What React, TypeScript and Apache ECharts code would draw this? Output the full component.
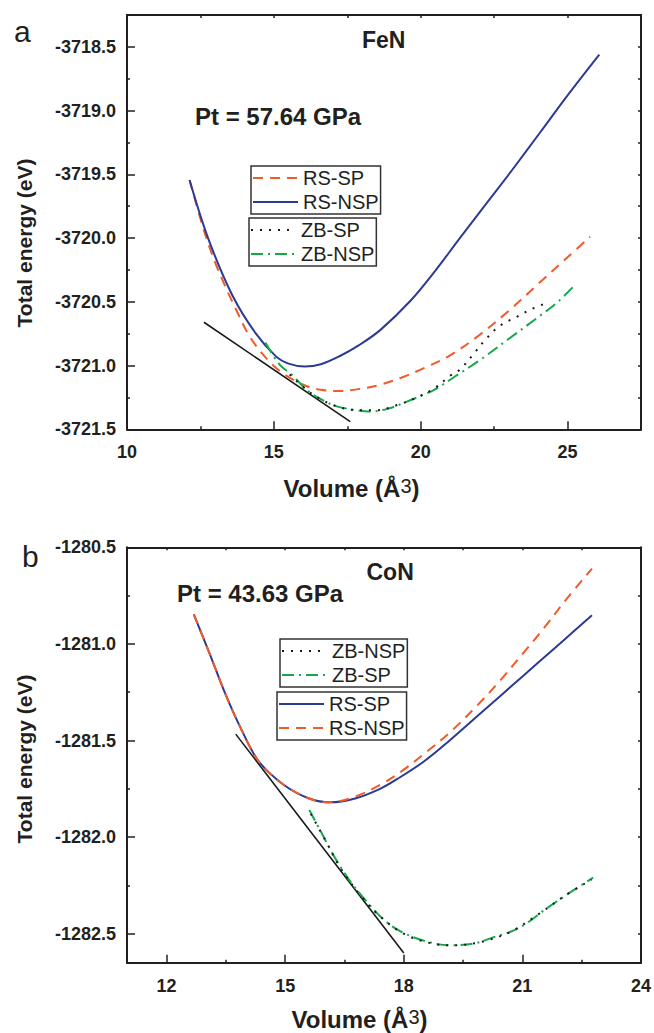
import React, { useEffect, useRef } from 'react';
import * as echarts from 'echarts';

const FONT = '"Liberation Sans", Arial, Helvetica, sans-serif';
const INK = '#231f20';
const BLUE = '#2c3a94';
const ORANGE = '#f15a29';
const GREEN = '#15a84b';
const BLACK = '#1a1a1a';

// ---------- FeN (panel a) ----------
const feRsSpV = [12.13, 12.62, 13.0, 13.33, 13.65, 14.2, 14.85, 15.3, 15.65, 16.1, 16.6, 17.25, 18.0, 18.63, 19.4, 20.11, 21.0, 22.0, 23.0, 24.0, 25.0, 25.77];
const feRsSpE = [-3719.545, -3719.94, -3720.19, -3720.37, -3720.53, -3720.78, -3720.97, -3721.06, -3721.11, -3721.16, -3721.19, -3721.2, -3721.18, -3721.15, -3721.09, -3721.02, -3720.92, -3720.76, -3720.57, -3720.36, -3720.15, -3719.99];

const feRsNspV = [12.13, 12.76, 13.59, 14.39, 15.08, 15.5, 16.05, 16.6, 17.25, 17.9, 18.63, 19.66, 20.5, 21.3, 22.2, 23.1, 24.07, 25.0, 26.08];
const feRsNspE = [-3719.545, -3720.0, -3720.45, -3720.75, -3720.93, -3720.985, -3721.008, -3720.99, -3720.925, -3720.84, -3720.72, -3720.49, -3720.255, -3720.01, -3719.74, -3719.47, -3719.17, -3718.88, -3718.56];

const feZbSpV = [15.54, 16.11, 16.57, 17.14, 17.83, 18.5, 19.2, 19.77, 20.46, 21.0, 21.34, 21.76, 22.19, 22.68, 23.25, 23.75, 24.38];
const feZbSpE = [-3721.07, -3721.19, -3721.26, -3721.32, -3721.35, -3721.35, -3721.31, -3721.26, -3721.18, -3721.08, -3721.03, -3720.92, -3720.8, -3720.69, -3720.62, -3720.56, -3720.5];

const feZbNspV = [14.71, 15.19, 15.65, 16.11, 16.57, 17.14, 17.83, 18.23, 18.86, 19.77, 20.46, 21.14, 22.06, 23.0, 24.0, 24.67, 25.24];
const feZbNspE = [-3720.82, -3720.99, -3721.08, -3721.19, -3721.26, -3721.32, -3721.35, -3721.36, -3721.34, -3721.26, -3721.19, -3721.09, -3720.95, -3720.79, -3720.62, -3720.5, -3720.37];

const feTanV = [12.62, 17.6];
const feTanE = [-3720.66, -3721.44];

// ---------- CoN (panel b) ----------
const coRsSpV = [12.69, 13.07, 13.49, 13.91, 14.34, 14.97, 15.61, 16.14, 16.77, 17.4, 17.83, 18.5, 19.16, 19.95, 20.5, 21.01, 21.75, 22.3, 22.76];
const coRsSpE = [-1280.847, -1281.04, -1281.26, -1281.45, -1281.61, -1281.73, -1281.8, -1281.82, -1281.8, -1281.75, -1281.7, -1281.61, -1281.5, -1281.358, -1281.259, -1281.167, -1281.034, -1280.935, -1280.852];

const coRsNspV = [12.69, 13.07, 13.49, 13.91, 14.34, 14.97, 15.61, 16.14, 16.77, 17.4, 17.94, 18.57, 19.21, 19.85, 20.48, 21.01, 21.54, 22.07, 22.76];
const coRsNspE = [-1280.847, -1281.04, -1281.26, -1281.45, -1281.61, -1281.73, -1281.8, -1281.82, -1281.79, -1281.73, -1281.66, -1281.56, -1281.45, -1281.32, -1281.18, -1281.05, -1280.92, -1280.78, -1280.61];

const coZbSpV = [15.61, 15.9, 16.24, 16.65, 17.09, 17.51, 17.94, 18.57, 19.2, 19.8, 20.24, 20.7, 21.08, 21.54, 22.18, 22.79];
const coZbSpE = [-1281.86, -1281.97, -1282.1, -1282.23, -1282.34, -1282.43, -1282.49, -1282.54, -1282.56, -1282.55, -1282.52, -1282.49, -1282.45, -1282.38, -1282.29, -1282.21];

const coZbNspV = [15.65, 16.0, 16.4, 16.9, 17.4, 18.0, 18.7, 19.3, 20.0, 20.7, 21.4, 22.1, 22.75];
const coZbNspE = [-1281.88, -1282.01, -1282.16, -1282.3, -1282.41, -1282.5, -1282.55, -1282.56, -1282.54, -1282.49, -1282.4, -1282.3, -1282.22];

const coTanV = [13.75, 18.0];
const coTanE = [-1281.467, -1282.6];

// axis ranges
const feX = { min: 10, max: 27.5, interval: 5 };
const feY = { min: -3721.5, max: -3718.25, interval: 0.5 };
const coX = { min: 11, max: 24 };
const coY = { min: -1282.65, max: -1280.5 };

const zip = (xs: number[], ys: number[]) => xs.map((x, i) => [x, ys[i]]);

const isMult = (v: number, step: number) => Math.abs(v / step - Math.round(v / step)) < 1e-6;

const tickLine = { color: INK, width: 1.5 };

function mainX(gridIndex: number, r: any, step: number) {
  return {
    type: 'value', gridIndex, position: 'bottom', ...r,
    axisLine: { onZero: false, lineStyle: { color: INK, width: 2 } },
    axisTick: { inside: true, length: 8, lineStyle: tickLine },
    minorTick: { show: true, splitNumber: 2, length: 3, lineStyle: tickLine },
    splitLine: { show: false },
    axisLabel: {
      margin: 14, fontSize: 18, fontWeight: 'bold', fontFamily: FONT, color: INK,
      formatter: (v: number) => (isMult(v, step) ? String(Math.round(v)) : ''),
    },
  };
}
function mirrorX(gridIndex: number, r: any) {
  return {
    type: 'value', gridIndex, position: 'top', ...r,
    axisLine: { onZero: false, lineStyle: { color: INK, width: 2 } },
    axisTick: { inside: true, length: 3, lineStyle: tickLine },
    minorTick: { show: true, splitNumber: 2, length: 3, lineStyle: tickLine },
    splitLine: { show: false },
    axisLabel: { show: false },
  };
}
function mainY(gridIndex: number, r: any) {
  return {
    type: 'value', gridIndex, position: 'left', ...r,
    axisLine: { onZero: false, lineStyle: { color: INK, width: 2 } },
    axisTick: { inside: true, length: 8, lineStyle: tickLine },
    minorTick: { show: true, splitNumber: 2, length: 3, lineStyle: tickLine },
    splitLine: { show: false },
    axisLabel: {
      margin: 11, fontSize: 18, fontWeight: 'bold', fontFamily: FONT, color: INK,
      formatter: (v: number) => (isMult(v, 0.5) ? v.toFixed(1) : ''),
    },
  };
}
function mirrorY(gridIndex: number, r: any) {
  return {
    type: 'value', gridIndex, position: 'right', ...r,
    axisLine: { onZero: false, lineStyle: { color: INK, width: 2 } },
    axisTick: { inside: true, length: 3, lineStyle: tickLine },
    minorTick: { show: true, splitNumber: 2, length: 3, lineStyle: tickLine },
    splitLine: { show: false },
    axisLabel: { show: false },
  };
}

function line(name: string, data: number[][], axis: number, color: string, type: any, width = 2) {
  return {
    type: 'line', name, data, xAxisIndex: axis, yAxisIndex: axis,
    symbol: 'none', smooth: 0.35, silent: true, z: 3,
    lineStyle: { color, width, type, cap: 'butt' },
    itemStyle: { color },
  };
}

const DASH = [10, 7];
const DOT = [2, 7];
const DASHDOT = [12, 5, 2, 5];

function legend(left: number, top: number, data: string[]) {
  return {
    left, top, orient: 'vertical', data,
    formatter: (n: string) => n.split('|')[1],
    itemWidth: 45, itemHeight: 14, itemGap: 2,
    padding: [1, 2, 1, 1],
    borderColor: '#333', borderWidth: 1.5,
    selectedMode: false,
    itemStyle: { opacity: 0 },
    textStyle: { fontSize: 20, fontFamily: FONT, color: INK, lineHeight: 22 },
  };
}

function txt(x: number, y: number, text: string, size: number, bold: boolean, align = 'left', rotation = 0) {
  return {
    type: 'text', x, y, rotation, silent: true,
    style: { text, fontSize: size, fontWeight: bold ? 'bold' : 'normal', fontFamily: FONT, fill: INK, align, verticalAlign: 'middle' },
  };
}
function volumeName(x: number, y: number) {
  return {
    type: 'text', x, y, silent: true,
    style: {
      text: '{b|Volume (Å}{s|3}{b|)}', align: 'center', verticalAlign: 'middle', fill: INK,
      rich: {
        b: { fontSize: 24, fontWeight: 'bold', fontFamily: FONT, fill: INK, lineHeight: 28, verticalAlign: 'top' },
        s: { fontSize: 20, fontWeight: 'normal', fontFamily: FONT, fill: INK, lineHeight: 22, verticalAlign: 'top' },
      },
    },
  };
}

function buildOption() {
  return {
    animation: false,
    backgroundColor: '#fff',
    grid: [
      { left: 127, top: 15, width: 514, height: 414.3 },
      { left: 127, top: 547.3, width: 514, height: 415.4 },
    ],
    xAxis: [mainX(0, feX, 5), mirrorX(0, feX), mainX(1, coX, 3), mirrorX(1, coX)],
    yAxis: [mainY(0, feY), mirrorY(0, feY), mainY(1, coY), mirrorY(1, coY)],
    legend: [
      legend(251, 166, ['a|RS-SP', 'a|RS-NSP']),
      legend(249, 218, ['a|ZB-SP', 'a|ZB-NSP']),
      legend(280, 639, ['b|ZB-NSP', 'b|ZB-SP']),
      legend(277, 692, ['b|RS-SP', 'b|RS-NSP']),
    ],
    series: [
      line('a|tangent', zip(feTanV, feTanE), 0, BLACK, 'solid', 1.6),
      line('a|RS-SP', zip(feRsSpV, feRsSpE), 0, ORANGE, DASH),
      line('a|RS-NSP', zip(feRsNspV, feRsNspE), 0, BLUE, 'solid'),
      line('a|ZB-NSP', zip(feZbNspV, feZbNspE), 0, GREEN, DASHDOT),
      line('a|ZB-SP', zip(feZbSpV, feZbSpE), 0, BLACK, DOT),
      line('b|tangent', zip(coTanV, coTanE), 2, BLACK, 'solid', 1.6),
      line('b|RS-SP', zip(coRsSpV, coRsSpE), 2, BLUE, 'solid'),
      line('b|RS-NSP', zip(coRsNspV, coRsNspE), 2, ORANGE, DASH),
      line('b|ZB-SP', zip(coZbSpV, coZbSpE), 2, GREEN, DASHDOT),
      line('b|ZB-NSP', zip(coZbNspV, coZbNspE), 2, BLACK, DOT),
    ],
    graphic: [
      txt(14, 31, 'a', 30, false),
      txt(362, 40, 'FeN', 23, true),
      txt(195, 116.5, 'Pt = 57.64 GPa', 24, true),
      txt(24, 243, 'Total energy (eV)', 21, true, 'center', Math.PI / 2),
      volumeName(351.5, 490),
      txt(22, 556, 'b', 30, false),
      txt(366.5, 572, 'CoN', 23, true),
      txt(177, 593.5, 'Pt = 43.63 GPa', 24, true),
      txt(24, 759, 'Total energy (eV)', 21, true, 'center', Math.PI / 2),
      volumeName(359.5, 1021),
    ],
  };
}

export default function App() {
  const ref = useRef<HTMLDivElement>(null);
  useEffect(() => {
    if (!ref.current) return;
    const chart = echarts.init(ref.current, null, { renderer: 'svg' });
    chart.setOption(buildOption() as any);
    return () => chart.dispose();
  }, []);
  return (
    <div
      ref={ref}
      style={{ position: 'fixed', left: 0, top: 0, width: 654, height: 1033, background: '#fff' }}
    />
  );
}
